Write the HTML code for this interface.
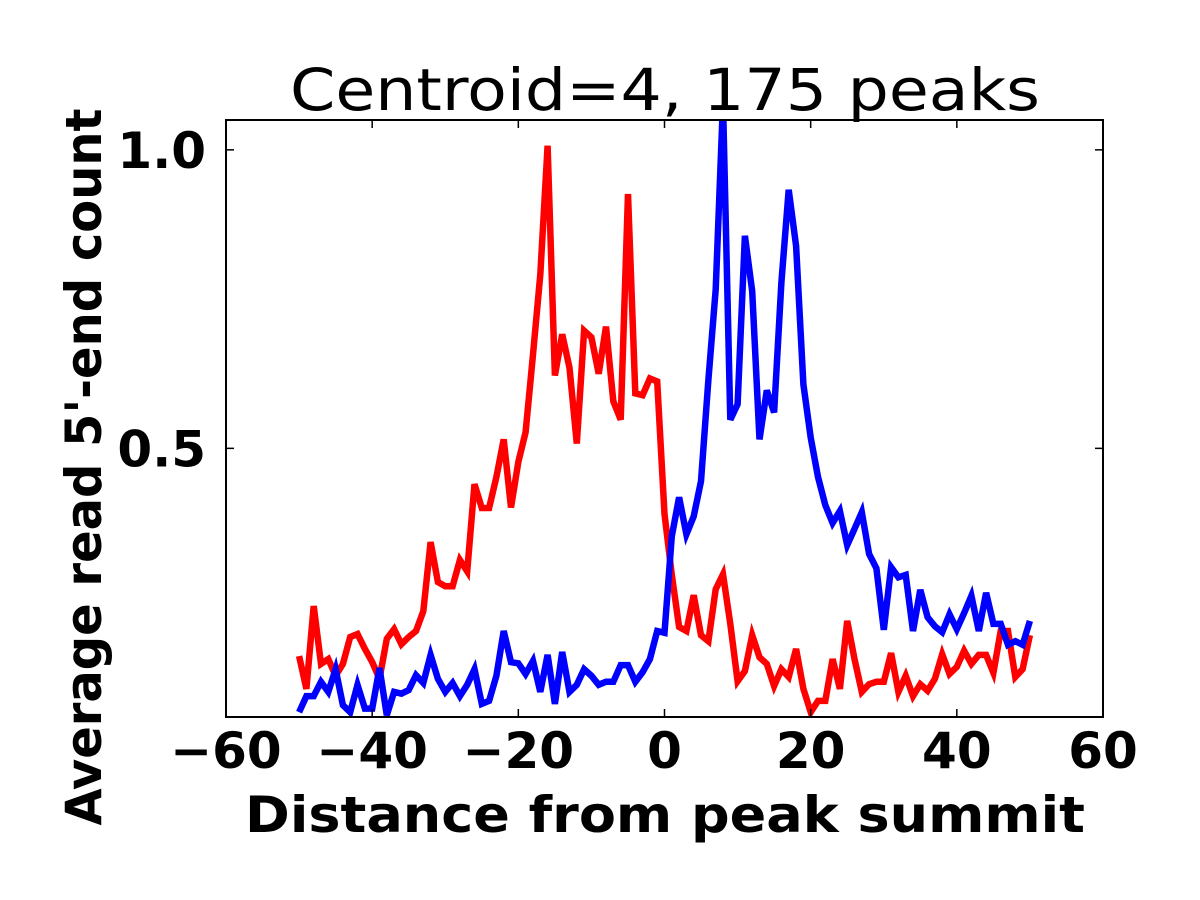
<!DOCTYPE html>
<html><head><meta charset="utf-8"><style>
html,body{margin:0;padding:0;background:#fff;width:1200px;height:900px;overflow:hidden}
svg text{font-family:"DejaVu Sans","Liberation Sans",sans-serif}
</style></head><body>
<svg id="chart" width="1200" height="900" xmlns="http://www.w3.org/2000/svg"></svg>
<script>
const xValues = [];
for (let i = -50; i <= 50; i++) xValues.push(i);
const redSeries = [0.152,0.097,0.236,0.139,0.147,0.119,0.139,0.184,0.189,0.164,0.142,0.114,0.181,0.197,0.172,0.184,0.194,0.227,0.343,0.276,0.269,0.269,0.313,0.294,0.440,0.400,0.400,0.452,0.515,0.401,0.477,0.527,0.657,0.791,1.007,0.622,0.691,0.635,0.508,0.697,0.686,0.625,0.704,0.579,0.548,0.926,0.592,0.589,0.617,0.612,0.390,0.288,0.201,0.194,0.254,0.187,0.177,0.264,0.289,0.206,0.110,0.127,0.187,0.150,0.139,0.102,0.130,0.117,0.164,0.097,0.058,0.077,0.077,0.147,0.097,0.211,0.147,0.092,0.105,0.109,0.109,0.157,0.092,0.119,0.085,0.105,0.094,0.114,0.155,0.122,0.134,0.161,0.139,0.154,0.154,0.124,0.194,0.194,0.117,0.130,0.187];
const blueSeries = [0.058,0.085,0.085,0.109,0.092,0.130,0.070,0.058,0.104,0.064,0.064,0.132,0.053,0.092,0.089,0.095,0.120,0.107,0.154,0.114,0.092,0.107,0.085,0.104,0.130,0.072,0.077,0.119,0.194,0.142,0.140,0.122,0.144,0.092,0.154,0.072,0.159,0.092,0.104,0.130,0.119,0.104,0.109,0.109,0.137,0.137,0.109,0.125,0.147,0.194,0.191,0.353,0.418,0.356,0.386,0.445,0.615,0.766,1.08,0.548,0.574,0.856,0.763,0.515,0.597,0.560,0.778,0.933,0.839,0.607,0.518,0.452,0.405,0.375,0.395,0.338,0.365,0.393,0.323,0.299,0.196,0.301,0.284,0.288,0.194,0.263,0.217,0.202,0.192,0.222,0.197,0.224,0.253,0.194,0.258,0.206,0.206,0.171,0.177,0.171,0.211];
const xTicks = [-60,-40,-20,0,20,40,60];
const xTickLabels = ["\u221260","\u221240","\u221220","0","20","40","60"];
const yTicks = [0.5,1.0];
const yTickLabels = ["0.5","1.0"];

const L=226,R=1103,T=120,B=717, XMIN=-60,XMAX=60,YMIN=0.05,YMAX=1.05;
const sx=v=>L+(v-XMIN)/(XMAX-XMIN)*(R-L);
const sy=v=>B-(v-YMIN)/(YMAX-YMIN)*(B-T);
const svg=document.getElementById('chart');
const NS="http://www.w3.org/2000/svg";
function mk(tag,attrs,parent){const e=document.createElementNS(NS,tag);for(const k in attrs)e.setAttribute(k,attrs[k]);(parent||svg).appendChild(e);return e;}

const defs=mk('defs',{});
const cp=mk('clipPath',{id:'clip'},defs);
mk('rect',{x:L,y:T,width:R-L,height:B-T},cp);

function series(vals,color,name){
  const d=vals.map((v,i)=>(i?'L':'M')+sx(xValues[i]).toFixed(1)+' '+sy(v).toFixed(1)).join(' ');
  const p=mk('path',{d:d,fill:'none',stroke:color,'stroke-width':6.5,'stroke-linejoin':'miter','clip-path':'url(#clip)'});
  
  
}
series(redSeries,'#ff0000','red-series-line');
series(blueSeries,'#0000ff','blue-series-line');

const frame=mk('rect',{x:L,y:T,width:R-L,height:B-T,fill:'none',stroke:'#000','stroke-width':2});



xTicks.forEach((t,i)=>{
  const x=sx(t);
  mk('line',{x1:x,y1:B,x2:x,y2:B-8,stroke:'#000','stroke-width':1.5});
  mk('line',{x1:x,y1:T,x2:x,y2:T+8,stroke:'#000','stroke-width':1.5});
  const tx=mk('text',{x:x,y:768,'text-anchor':'middle','font-size':50,'font-weight':'bold'});
  tx.textContent=xTickLabels[i];
  
  
});
yTicks.forEach((t,i)=>{
  const y=sy(t);
  mk('line',{x1:L,y1:y,x2:L+8,y2:y,stroke:'#000','stroke-width':1.5});
  mk('line',{x1:R,y1:y,x2:R-8,y2:y,stroke:'#000','stroke-width':1.5});
  const tx=mk('text',{x:L-20,y:y+18,'text-anchor':'end','font-size':50,'font-weight':'bold'});
  tx.textContent=yTickLabels[i];
  
  
});

const title=mk('text',{x:665,y:110,'text-anchor':'middle','font-size':58,textLength:750,lengthAdjust:'spacingAndGlyphs'});
title.textContent="Centroid=4, 175 peaks";



const xl=mk('text',{x:665,y:832,'text-anchor':'middle','font-size':50,'font-weight':'bold',textLength:840,lengthAdjust:'spacingAndGlyphs'});
xl.textContent="Distance from peak summit";



const yl=mk('text',{x:0,y:0,'text-anchor':'middle','font-size':50,'font-weight':'bold',textLength:717,lengthAdjust:'spacingAndGlyphs',transform:'translate(101,467) rotate(-90)'});
yl.textContent="Average read 5'-end count";


</script>
</body></html>
